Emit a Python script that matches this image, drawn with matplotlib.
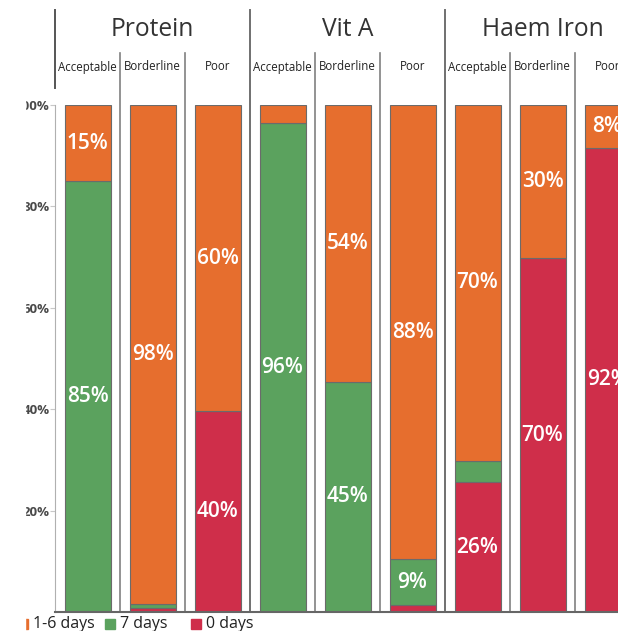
import numpy as np
import matplotlib
matplotlib.use('Agg')
import matplotlib.pyplot as plt
from matplotlib.patches import Rectangle

plt.rcParams['font.family'] = ['Open Sans', 'DejaVu Sans']

nutrients = ['Protein', 'Vit A', 'Haem Iron']
levels = ['Acceptable', 'Borderline', 'Poor']
series = ['1-6 days', '7 days', '0 days']
colors = {'1-6 days': '#E66E2E', '7 days': '#5BA25E', '0 days': '#CF2E4A'}

# share of households (%) per column: Protein x3, Vit A x3, Haem Iron x3
zero_days = [0.0, 0.8, 39.6, 0.0, 0.0, 1.4, 25.6, 69.8, 91.6]
seven_days = [85.0, 0.8, 0.0, 96.4, 45.4, 9.0, 4.2, 0.0, 0.0]
one_six_days = [15.0, 98.4, 60.4, 3.6, 54.6, 89.6, 70.2, 30.2, 8.4]

# labels printed on the bars (None = no label)
lab_zero = [None, None, 40, None, None, None, 26, 70, 92]
lab_seven = [85, None, None, 96, 45, 9, None, None, None]
lab_one_six = [15, 98, 60, None, 54, 88, 70, 30, 8]

yticks = [20, 40, 60, 80, 100]

W, H = 618, 631
fig = plt.figure(figsize=(W / 100, H / 100), dpi=100)
ax = fig.add_axes([55 / W, 19 / H, 585 / W, 507 / H])

x = np.arange(9) + 0.5
bw = 46 / 65
stack = [('0 days', zero_days, lab_zero),
         ('7 days', seven_days, lab_seven),
         ('1-6 days', one_six_days, lab_one_six)]
bottom = np.zeros(9)
for name, vals, labs in stack:
    vals = np.array(vals)
    ax.bar(x, vals, width=bw, bottom=bottom, color=colors[name],
           edgecolor='#6b6b6b', linewidth=0.8, zorder=2)
    for i, lab in enumerate(labs):
        if lab is None:
            continue
        ax.text(x[i], bottom[i] + vals[i] / 2, '{}%'.format(lab), color='white',
                fontsize=15, fontweight='semibold', ha='center', va='center',
                zorder=3)
    bottom += vals

ax.set_xlim(0, 9)
ax.set_ylim(0, 100)
ax.set_xticks([])
ax.set_yticks(yticks)
ax.set_yticklabels(['{}%'.format(t) for t in yticks], fontsize=9.5,
                   fontweight='bold', color='#4a4a4a')
ax.tick_params(axis='y', length=3.5, width=0.8, color='#c8c8c8', pad=0.5)
for s in ['top', 'right']:
    ax.spines[s].set_visible(False)
ax.spines['left'].set_color('#b0b0b0')
ax.spines['bottom'].set_color('#666666')
ax.spines['bottom'].set_linewidth(1.5)

# column dividers and header
tr = ax.get_xaxis_transform()
top_grp = (612 - 10) / 507
top_sub = (612 - 53) / 507
for i in range(1, 9):
    if i % 3 == 0:
        ax.plot([i, i], [0, top_grp], color='#707070', lw=1.4, transform=tr,
                clip_on=False)
    else:
        ax.plot([i, i], [0, top_sub], color='#808080', lw=1.2, transform=tr,
                clip_on=False)
ax.plot([0, 0], [(612 - 88) / 507, top_grp], color='#555555', lw=1.4,
        transform=tr, clip_on=False)

for g, name in enumerate(nutrients):
    ax.text(3 * g + 1.5, (612 - 30) / 507, name, transform=tr, fontsize=17.7,
            color='#333333', ha='center', va='center')
    for j, lv in enumerate(levels):
        ax.text(3 * g + j + 0.5, (612 - 67) / 507, lv, transform=tr,
                fontsize=8.3, color='#222222', ha='center', va='center')

# legend
leg_x = [18, 105, 191]
for name, lx in zip(series, leg_x):
    fig.patches.append(Rectangle((lx / W, (H - 629) / H), 10 / W, 10 / H,
                                 transform=fig.transFigure,
                                 color=colors[name], zorder=5))
    fig.text((lx + 15) / W, (H - 624) / H, name, fontsize=11.5, color='#222222',
             ha='left', va='center', zorder=5)

# the left strip of the view is blank
fig.patches.append(Rectangle((0, 0), 25 / W, 1, transform=fig.transFigure,
                             color='white', zorder=20))

fig.savefig('out.png', dpi=100)
